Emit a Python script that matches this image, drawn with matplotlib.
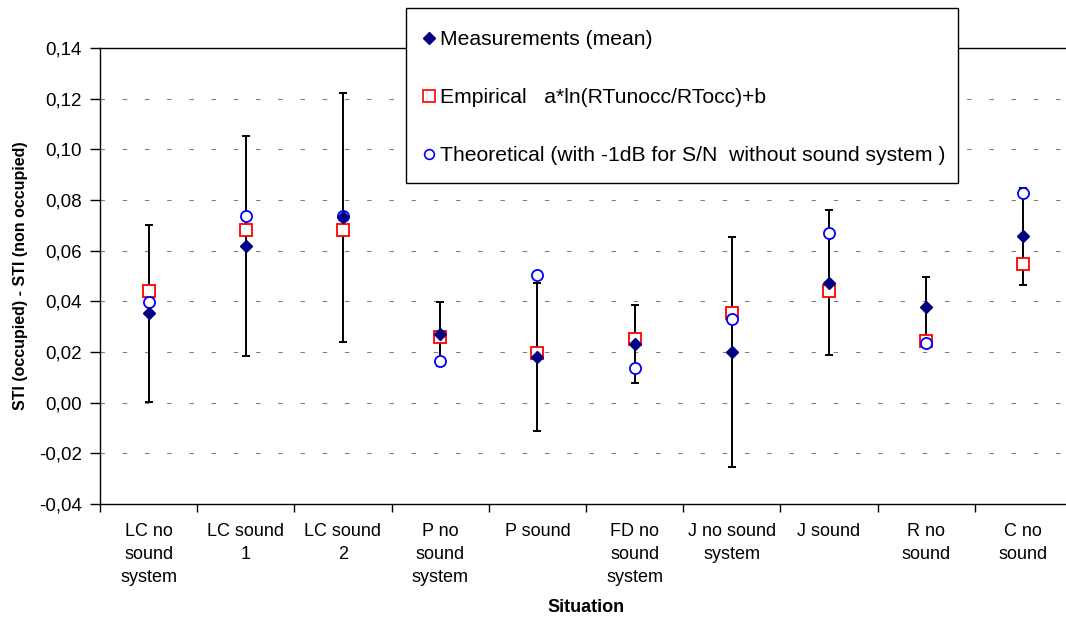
import numpy as np
import matplotlib
matplotlib.use("Agg")
from matplotlib import pyplot as plt
from matplotlib.ticker import FuncFormatter, FixedLocator
from matplotlib.lines import Line2D
from matplotlib.patches import Rectangle

plt.rcParams['font.family'] = ['Liberation Sans', 'DejaVu Sans']

# data
situations = ['LC no\nsound\nsystem', 'LC sound\n1', 'LC sound\n2', 'P no\nsound\nsystem', 'P sound',
              'FD no\nsound\nsystem', 'J no sound\nsystem', 'J sound', 'R no\nsound', 'C no\nsound']
measured = [0.0353, 0.0617, 0.0731, 0.0270, 0.0180, 0.0232, 0.0199, 0.0473, 0.0377, 0.0656]
meas_err = [0.0350, 0.0434, 0.0490, 0.0126, 0.0292, 0.0153, 0.0453, 0.0286, 0.0120, 0.0190]
empirical = [0.0439, 0.0683, 0.0683, 0.0260, 0.0198, 0.0252, 0.0353, 0.0439, 0.0245, 0.0547]
theoretical = [0.0399, 0.0736, 0.0736, 0.0165, 0.0505, 0.0137, 0.0329, 0.0669, 0.0234, 0.0829]

W, H = 1066, 617
fig = plt.figure(figsize=(W/100, H/100), dpi=100)
ax = fig.add_axes([100/W, 113/H, 972/W, 456/H])

x = np.arange(len(situations)) + 0.5

# grid lines (dashed, grey)
for g in np.arange(-0.02, 0.13, 0.02):
    ax.axhline(g, color='#808080', lw=0.8, linestyle=(0, (4, 16)), zorder=1)

ax.errorbar(x, measured, yerr=meas_err, fmt='none', ecolor='black', elinewidth=1.4,
            capsize=3, capthick=1.4, zorder=2)
ax.plot(x, empirical, 's', ms=8.3, mfc='white', mec='red', mew=1.3, ls='none', zorder=3)
ax.plot(x, theoretical, 'o', ms=8, mfc='white', mec='blue', mew=1.3, ls='none', zorder=4)
ax.plot(x, measured, 'D', ms=6.6, color='#000080', ls='none', zorder=5)

ax.set_xlim(0, 10)
ax.set_ylim(-0.04, 0.14)
ax.set_yticks(np.arange(-0.04, 0.141, 0.02))
ax.yaxis.set_major_formatter(FuncFormatter(lambda v, p: ('%.2f' % v).replace('-0.00', '0.00').replace('.', ',')))
ax.tick_params(axis='y', direction='out', length=7, width=1, pad=6, labelsize=13.5)

ax.xaxis.set_major_locator(FixedLocator(np.arange(0, 11)))
ax.xaxis.set_minor_locator(FixedLocator(x))
ax.set_xticklabels([''] * 11)
ax.set_xticklabels(situations, minor=True, linespacing=1.44)
ax.tick_params(axis='x', which='major', direction='out', length=6, width=1)
ax.tick_params(axis='x', which='minor', length=0, pad=14, labelsize=13)

for s in ['left', 'bottom', 'top']:
    ax.spines[s].set_linewidth(1)
ax.spines['right'].set_visible(False)

ax.set_ylabel('STI (occupied) - STI (non occupied)', fontsize=11.5, fontweight='bold', labelpad=8)
ax.set_xlabel('Situation', fontsize=13, fontweight='bold', labelpad=9.5)

# legend box drawn separately so the padding can differ from the row layout
box = Rectangle((406/W, 1 - 183/H), 552/W, 175/H, transform=fig.transFigure,
                facecolor='white', edgecolor='black', linewidth=1, zorder=4)
fig.add_artist(box)

handles = [
    Line2D([], [], marker='D', ls='none', color='#000080', ms=6),
    Line2D([], [], marker='s', ls='none', mfc='white', mec='red', mew=1.2, ms=8),
    Line2D([], [], marker='o', ls='none', mfc='white', mec='blue', mew=1.2, ms=7),
]
labels = ['Measurements (mean)', 'Empirical   a*ln(RTunocc/RTocc)+b',
          'Theoretical (with -1dB for S/N  without sound system )']
leg = fig.legend(handles, labels, loc='upper left', bbox_to_anchor=(423/W, 1 - 30/H),
                 fontsize=15.2, frameon=False,
                 handlelength=0.6, handletextpad=0.2, labelspacing=1.85,
                 borderpad=0, borderaxespad=0)

fig.savefig('out.png', dpi=100)
